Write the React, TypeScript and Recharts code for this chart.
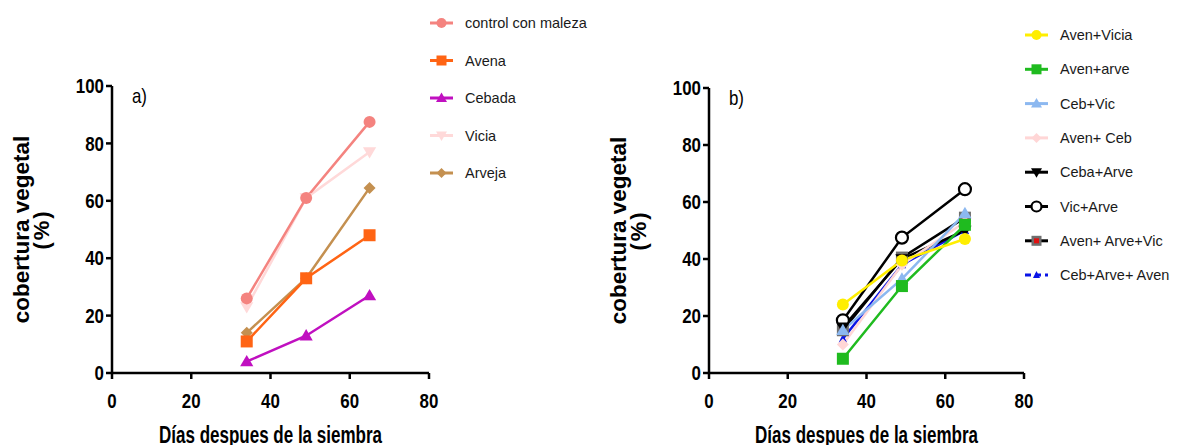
import React from "react"
import { LineChart, Line, XAxis, YAxis } from "recharts"

// days after sowing
const days = [34, 49, 65]

// panel a)
const controlConMaleza = [26, 61, 87.5]
const avena = [11, 33, 48]
const cebada = [4, 13, 27]
const vicia = [23, 61, 77]
const arveja = [14, 33, 64.5]

// panel b)
const avenVicia = [24, 39.5, 47]
const avenArve = [5, 30.5, 52]
const cebVic = [15, 33, 56]
const avenCeb = [10, 38, 53]
const cebaArve = [16, 40, 50]
const vicArve = [18.5, 47.5, 64.5]
const avenArveVic = [15, 40.5, 54.5]
const cebArveAven = [12, 38, 50]

const xTicks = [0, 20, 40, 60, 80]
const yTicks = [0, 20, 40, 60, 80, 100]

type Shape =
  | "circle"
  | "square"
  | "triangle"
  | "triangleDown"
  | "diamond"
  | "openCircle"
  | "squareRed"
  | "smallTriangle"

interface Serie {
  key: string
  name: string
  color: string
  line: string
  shape: Shape
  values: number[]
  dashedLegend?: boolean
}

const seriesA: Serie[] = [
  { key: "control", name: "control con maleza", color: "#f4837f", line: "#f4837f", shape: "circle", values: controlConMaleza },
  { key: "avena", name: "Avena", color: "#ff6414", line: "#ff6414", shape: "square", values: avena },
  { key: "cebada", name: "Cebada", color: "#c010c0", line: "#c010c0", shape: "triangle", values: cebada },
  { key: "vicia", name: "Vicia", color: "#ffd9d9", line: "#ffd9d9", shape: "triangleDown", values: vicia },
  { key: "arveja", name: "Arveja", color: "#c49050", line: "#c49050", shape: "diamond", values: arveja },
]

const seriesB: Serie[] = [
  { key: "avenVicia", name: "Aven+Vicia", color: "#ffee00", line: "#ffee00", shape: "circle", values: avenVicia },
  { key: "avenArve", name: "Aven+arve", color: "#1fbb1f", line: "#1fbb1f", shape: "square", values: avenArve },
  { key: "cebVic", name: "Ceb+Vic", color: "#8cb8f0", line: "#8cb8f0", shape: "triangle", values: cebVic },
  { key: "avenCeb", name: "Aven+ Ceb", color: "#ffd6d6", line: "#ffd6d6", shape: "diamond", values: avenCeb },
  { key: "cebaArve", name: "Ceba+Arve", color: "#000000", line: "#000000", shape: "triangleDown", values: cebaArve },
  { key: "vicArve", name: "Vic+Arve", color: "#000000", line: "#000000", shape: "openCircle", values: vicArve },
  { key: "avenArveVic", name: "Aven+ Arve+Vic", color: "#000000", line: "#000000", shape: "squareRed", values: avenArveVic },
  { key: "cebArveAven", name: "Ceb+Arve+ Aven", color: "#0a14e6", line: "#0a14e6", shape: "smallTriangle", values: cebArveAven, dashedLegend: true },
]

const toRows = (series: Serie[]) =>
  days.map((day, i) => {
    const row: Record<string, number> = { day }
    series.forEach((s) => (row[s.key] = s.values[i]))
    return row
  })

const rowsA = toRows(seriesA)
const rowsB = toRows(seriesB)

const sans = "'Liberation Sans', Arial, sans-serif"

function Marker({ shape, cx, cy, color, s = 6 }: { shape: Shape; cx: number; cy: number; color: string; s?: number }) {
  switch (shape) {
    case "circle":
      return <circle cx={cx} cy={cy} r={s} fill={color} />
    case "square":
      return <rect x={cx - s} y={cy - s} width={s * 2} height={s * 2} fill={color} />
    case "triangle":
      return <polygon points={`${cx},${cy - s * 1.1} ${cx + s * 1.1},${cy + s * 0.8} ${cx - s * 1.1},${cy + s * 0.8}`} fill={color} />
    case "triangleDown":
      return <polygon points={`${cx},${cy + s * 1.1} ${cx + s * 1.1},${cy - s * 0.8} ${cx - s * 1.1},${cy - s * 0.8}`} fill={color} />
    case "diamond":
      return <polygon points={`${cx},${cy - s} ${cx + s},${cy} ${cx},${cy + s} ${cx - s},${cy}`} fill={color} />
    case "openCircle":
      return <circle cx={cx} cy={cy} r={s} fill="#fff" stroke={color} strokeWidth={2.2} />
    case "squareRed":
      return (
        <g>
          <rect x={cx - s} y={cy - s} width={s * 2} height={s * 2} fill="#6e6e6e" />
          <rect x={cx - s / 2} y={cy - s / 2} width={s} height={s} fill="#e01010" />
        </g>
      )
    case "smallTriangle":
      return <polygon points={`${cx},${cy - s * 0.8} ${cx + s * 0.7},${cy + s * 0.6} ${cx - s * 0.7},${cy + s * 0.6}`} fill={color} />
  }
  return null
}

const dotFor = (s: Serie) => (props: any) => {
  const { cx, cy, index } = props
  if (cx == null || cy == null) return <g key={`${s.key}-${index}`} />
  return (
    <g key={`${s.key}-${index}`}>
      <Marker shape={s.shape} cx={cx} cy={cy} color={s.color} />
    </g>
  )
}

function LegendBlock({ items, firstY, gap }: { items: Serie[]; firstY: number; gap: number }) {
  return (
    <svg width={170} height={firstY + gap * items.length} style={{ overflow: "visible", display: "block" }}>
      {items.map((s, i) => {
        const y = firstY + i * gap
        return (
          <g key={s.key}>
            <line x1={0} x2={23} y1={y} y2={y} stroke={s.line} strokeWidth={3} strokeDasharray={s.dashedLegend ? "6 4" : undefined} />
            <Marker shape={s.shape} cx={11.5} cy={y} color={s.color} s={5} />
            <text x={35} y={y} dominantBaseline="central" fontFamily={sans} fontSize={14.5} fill="#1a1a1a">
              {s.name}
            </text>
          </g>
        )
      })}
    </svg>
  )
}

const axisStroke = { stroke: "#000", strokeWidth: 2.5 }

// condensed bold tick labels (no narrow font installed, so squeeze the glyphs)
const XTick = (props: any) => {
  const { x, y, payload } = props
  const label = String(payload.value)
  return (
    <text x={x} y={y} dy="0.71em" textAnchor="middle" fontFamily={sans} fontWeight={700} fontSize={20} fill="#000"
      textLength={label.length * 9.4} lengthAdjust="spacingAndGlyphs">
      {label}
    </text>
  )
}

const YTick = (props: any) => {
  const { x, y, payload } = props
  const label = String(payload.value)
  return (
    <text x={x} y={y} dy="0.355em" textAnchor="end" fontFamily={sans} fontWeight={700} fontSize={20} fill="#000"
      textLength={label.length * 9.4} lengthAdjust="spacingAndGlyphs">
      {label}
    </text>
  )
}

const YTitle = (panel: string) => (props: any) => {
  const { x, y, width, height } = props.viewBox
  const cy = y + height / 2
  const axisX = x + width
  const t1 = x - 51
  const t2 = x - 31
  return (
    <g>
      <text x={t1} y={cy} transform={`rotate(-90 ${t1} ${cy})`} textAnchor="middle" dominantBaseline="central"
        fontFamily={sans} fontWeight={700} fontSize={22.5} fill="#000">
        cobertura vegetal
      </text>
      <text x={t2} y={cy} transform={`rotate(-90 ${t2} ${cy})`} textAnchor="middle" dominantBaseline="central"
        fontFamily={sans} fontWeight={700} fontSize={22} letterSpacing={2} fill="#000">
        (%)
      </text>
      <text x={axisX + 20} y={y + 17} fontFamily={sans} fontSize={21} fill="#000" textLength={15} lengthAdjust="spacingAndGlyphs">
        {panel}
      </text>
    </g>
  )
}

const XTitle = (props: any) => {
  const { x, y, width } = props.viewBox
  return (
    <text x={x + width / 2} y={y + 70} textAnchor="middle" fontFamily={sans} fontWeight={700} fontSize={23} fill="#000"
      textLength={223} lengthAdjust="spacingAndGlyphs">
      Días despues de la siembra
    </text>
  )
}

function Panel({
  rows,
  series,
  panel,
  width,
  margin,
}: {
  rows: Record<string, number>[]
  series: Serie[]
  panel: string
  width: number
  margin: { top: number; right: number; bottom: number; left: number }
}) {
  const drawOrder = [...series].reverse()
  return (
    <LineChart width={width} height={445} data={rows} margin={margin}>
      <XAxis
        type="number"
        dataKey="day"
        domain={[0, 80]}
        ticks={xTicks}
        height={72}
        axisLine={axisStroke}
        tickLine={axisStroke}
        tickSize={6}
        tickMargin={15}
        tick={XTick}
        interval={0}
        label={{ content: XTitle }}
      />
      <YAxis
        type="number"
        domain={[0, 100]}
        ticks={yTicks}
        width={40}
        axisLine={axisStroke}
        tickLine={axisStroke}
        tickSize={6}
        tickMargin={2}
        tick={YTick}
        interval={0}
        label={{ content: YTitle(panel) }}
      />
      {drawOrder.map((s) => (
        <Line
          key={s.key}
          dataKey={s.key}
          name={s.name}
          type="linear"
          stroke={s.line}
          strokeWidth={2.5}
          dot={dotFor(s)}
          activeDot={false}
          isAnimationActive={false}
        />
      ))}
    </LineChart>
  )
}

export default function App() {
  return (
    <div style={{ position: "absolute", left: 0, top: 0, width: 1179, height: 445, overflow: "hidden", background: "#fff" }}>
      <div style={{ position: "absolute", left: 0, top: 0 }}>
        <Panel rows={rowsA} series={seriesA} panel="a)" width={600} margin={{ top: 86, right: 171, bottom: 0, left: 72 }} />
      </div>
      <div style={{ position: "absolute", left: 430, top: 0 }}>
        <LegendBlock items={seriesA} firstY={23} gap={37.5} />
      </div>
      <div style={{ position: "absolute", left: 600, top: 0 }}>
        <Panel rows={rowsB} series={seriesB} panel="b)" width={579} margin={{ top: 88, right: 155, bottom: 0, left: 69 }} />
      </div>
      <div style={{ position: "absolute", left: 1025, top: 0 }}>
        <LegendBlock items={seriesB} firstY={35} gap={34.3} />
      </div>
    </div>
  )
}
